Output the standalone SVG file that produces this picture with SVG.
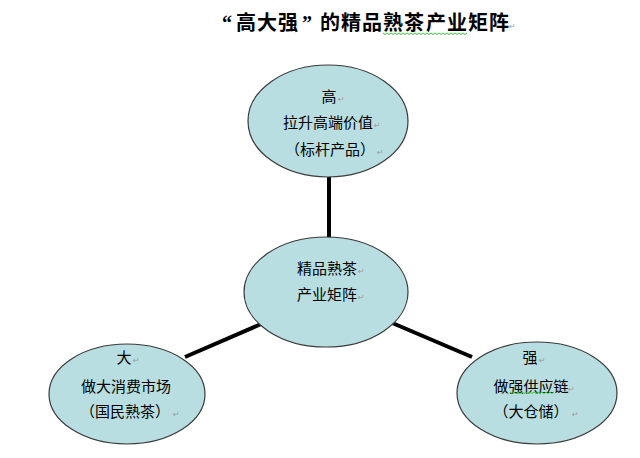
<svg xmlns="http://www.w3.org/2000/svg" width="640" height="458" viewBox="0 0 640 458">
<style>
.node{fill:#b8dee2;stroke:#3a3a3a;stroke-width:1.2}
.t{font-family:"Noto Sans CJK SC","Noto Sans CJK JP",sans-serif;font-size:15px;fill:#000;text-anchor:middle}
.r{font-family:"DejaVu Sans",sans-serif;font-size:8px;fill:#9a9a9a}
.title{font-family:"Liberation Serif","Noto Sans CJK SC",serif;font-size:20px;font-weight:bold;fill:#000}
.wave{fill:none;stroke:#38c838;stroke-width:1}
.conn{stroke:#000;stroke-width:4;stroke-linecap:butt}
</style>
<rect width="640" height="458" fill="#fff"/>
<g id="title">
<text class="title" x="222 236 257 278 302 320 341 362 383 404 426 447 468 489" y="30">“高大强”的精品熟茶产业矩阵</text>
<text class="r" x="509" y="29">↵</text>
<path class="wave" d="M383,33 l2,1.5 l2,-1.5 l2,1.5 l2,-1.5 l2,1.5 l2,-1.5 l2,1.5 l2,-1.5 l2,1.5 l2,-1.5 l2,1.5 l2,-1.5 l2,1.5 l2,-1.5 l2,1.5 l2,-1.5 l2,1.5 l2,-1.5 l2,1.5 l2,-1.5 l2,1.5 l2,-1.5 l2,1.5 l2,-1.5 l2,1.5 l2,-1.5 l2,1.5 l2,-1.5 l2,1.5 l2,-1.5 l2,1.5 l2,-1.5 l2,1.5 l2,-1.5 l2,1.5 l2,-1.5 l2,1.5 l2,-1.5 l2,1.5 l2,-1.5 l2,1.5 l2,-1.5"/>
</g>
<g id="connectors">
<line class="conn" x1="329" y1="170" x2="329" y2="245"/>
<line class="conn" x1="185" y1="357" x2="268" y2="321"/>
<line class="conn" x1="390" y1="322" x2="472" y2="357"/>
</g>
<g id="node-top">
<ellipse class="node" cx="328" cy="121" rx="80" ry="56"/>
<text class="t" x="329" y="102">高</text><text class="r" x="338" y="102">↵</text>
<text class="t" x="328" y="128">拉升高端价值</text><text class="r" x="374" y="128">↵</text>
<text class="t" x="330" y="155">（标杆产品）</text><text class="r" x="377" y="155">↵</text>
</g>
<g id="node-center">
<ellipse class="node" cx="326" cy="292" rx="82" ry="55"/>
<text class="t" x="327" y="274">精品熟茶</text><text class="r" x="358" y="274">↵</text>
<text class="t" x="327" y="300">产业矩阵</text><text class="r" x="358" y="300">↵</text>
</g>
<g id="node-left">
<ellipse class="node" cx="127" cy="394" rx="78" ry="50"/>
<text class="t" x="124" y="363">大</text><text class="r" x="133" y="363">↵</text>
<text class="t" x="126" y="392">做大消费市场</text>
<text class="t" x="125" y="417">（国民熟茶）</text><text class="r" x="173" y="417">↵</text>
</g>
<g id="node-right">
<ellipse class="node" cx="537" cy="393" rx="80" ry="51"/>
<text class="t" x="530" y="363">强</text><text class="r" x="539" y="363">↵</text>
<text class="t" x="531" y="392">做强供应链</text><text class="r" x="568" y="392">↵</text>
<text class="t" x="531" y="417">（大仓储）</text><text class="r" x="572" y="417">↵</text>
<path class="wave" d="M510,392 l2,1.5 l2,-1.5 l2,1.5 l2,-1.5 l2,1.5 l2,-1.5 l2,1.5 l2,-1.5 l2,1.5 l2,-1.5 l2,1.5 l2,-1.5 l2,1.5 l2,-1.5 l2,1.5 l2,-1.5 l2,1.5 l2,-1.5 l2,1.5 l2,-1.5 l2,1.5 l2,-1.5"/>
</g>
</svg>
